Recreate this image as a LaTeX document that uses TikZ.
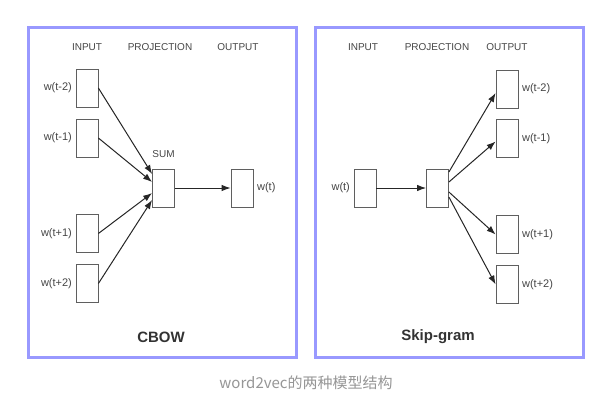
\documentclass[tikz,border=0pt]{standalone}
\usepackage{fontspec}
\setmainfont{Liberation Sans}
\newfontfamily\cjk{Noto Sans CJK SC}
\usetikzlibrary{positioning,arrows.meta}
\definecolor{frameblue}{RGB}{153,153,255}
\definecolor{boxgray}{RGB}{95,95,95}
\definecolor{txtgray}{RGB}{70,70,70}
\definecolor{capgray}{RGB}{150,150,150}

\begin{document}
\begin{tikzpicture}[x=1pt,y=-1pt,
   every node/.style={font=\fontsize{10}{12}\selectfont, text=txtgray},
   cell/.style={draw=boxgray, line width=0.8pt, minimum width=22pt,
                minimum height=38pt, inner sep=0pt},
   word/.style={font=\fontsize{11}{13}\selectfont, inner sep=2pt},
   frame/.style={draw=frameblue, line width=3pt},
   link/.style={-{Latex[length=9pt,width=6.5pt]}, line width=1pt, draw=black!85},
   title/.style={font=\fontsize{15}{18}\selectfont\bfseries, text=black!80},
   node distance=1.5pt]

\useasboundingbox (0,0) rectangle (612,404);
\fill[white] (0,0) rectangle (612,404);

% CBOW
\draw[frame] (28,28) rectangle (296,357);
\node (cin)   at (87,47)  {INPUT};
\node (cproj) at (160,47) {PROJECTION};
\node (cout)  at (238,47) {OUTPUT};

\node[cell] (c1) at (87,88)    {};
\node[cell] (c2) at (87,138)   {};
\node[cell] (c3) at (87,233.5) {};
\node[cell] (c4) at (87,283.5) {};
\node[word, left=of c1] (lc1) {w(t-2)};
\node[word, left=of c2] (lc2) {w(t-1)};
\node[word, left=of c3] (lc3) {w(t+1)};
\node[word, left=of c4] (lc4) {w(t+2)};

\node[cell] (sum) at (163.5,188) {};
\node[above=7pt of sum] (lsum) {SUM};
\node[cell] (cw) at (242,188) {};
\node[word, right=of cw] (lcw) {w(t)};

\draw[link] (c1.east) -- ([yshift=14pt]sum.west);
\draw[link] (c2.east) -- ([yshift=6pt]sum.west);
\draw[link] (c3.east) -- ([yshift=-5pt]sum.west);
\draw[link] (c4.east) -- ([yshift=-12pt]sum.west);
\draw[link] (sum.east) -- (cw.west);

\node[title] (cbow) at (161,337) {CBOW};

% Skip-gram
\draw[frame] (315,28) rectangle (583,357);
\node (sin)   at (363,47) {INPUT};
\node (sproj) at (437,47) {PROJECTION};
\node (sout)  at (507,47) {OUTPUT};

\node[cell] (sw) at (365,188) {};
\node[word, left=of sw] (lsw) {w(t)};
\node[cell] (proj) at (437.5,188) {};

\node[cell] (s1) at (507,89)    {};
\node[cell] (s2) at (507,138.5) {};
\node[cell] (s3) at (507,234.5) {};
\node[cell] (s4) at (507,284.5) {};
\node[word, right=of s1] (ls1) {w(t-2)};
\node[word, right=of s2] (ls2) {w(t-1)};
\node[word, right=of s3] (ls3) {w(t+1)};
\node[word, right=of s4] (ls4) {w(t+2)};

\draw[link] (sw.east) -- (proj.west);
\draw[link] ([yshift=16pt]proj.east) -- ([yshift=-4pt]s1.west);
\draw[link] ([yshift=6pt]proj.east) -- ([yshift=-3pt]s2.west);
\draw[link] ([yshift=-4pt]proj.east) -- (s3.west);
\draw[link] ([yshift=-9pt]proj.east) -- (s4.west);

\node[title] (skip) at (438,337) {Skip-gram};

% caption
\node[font=\cjk\fontsize{15}{18}\selectfont, text=capgray] (cap) at (306,383)
   {word2vec的两种模型结构};

\end{tikzpicture}
\end{document}
